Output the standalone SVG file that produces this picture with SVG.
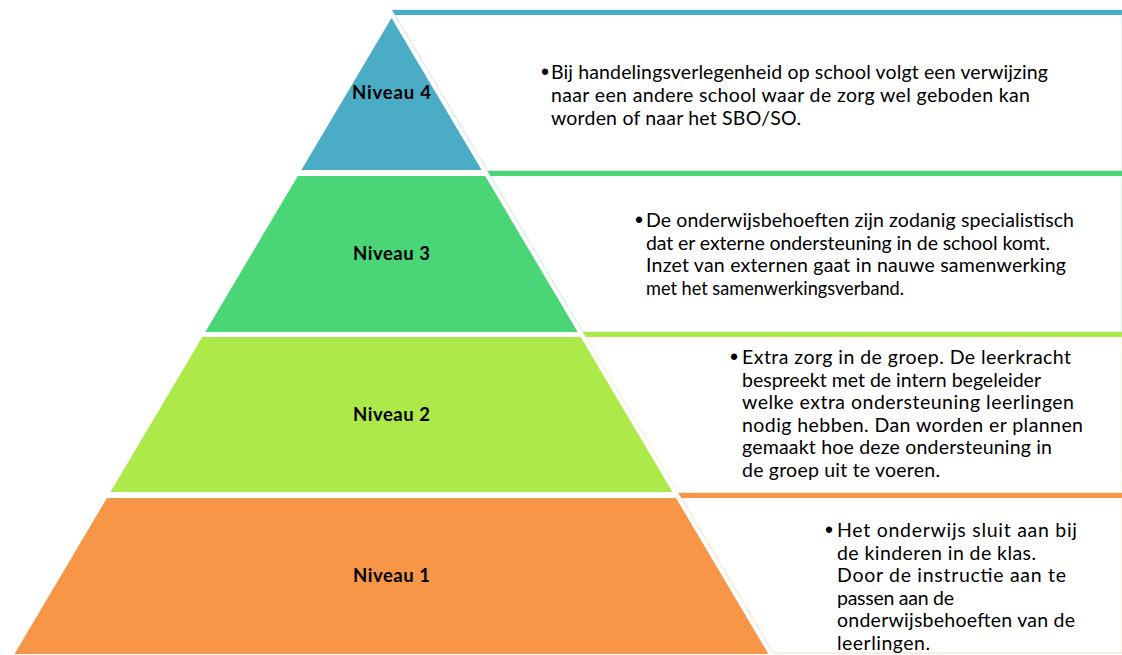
<svg xmlns="http://www.w3.org/2000/svg" width="1122" height="655" viewBox="0 0 1122 655">
<style>
.lbl{font-family:Lato,"Liberation Sans",sans-serif;font-weight:bold;font-size:18.5px;fill:#000;text-anchor:middle}
.txt{font-family:Lato,"Liberation Sans",sans-serif;font-size:19.5px;fill:#000}
.bul{font-family:"Liberation Sans",sans-serif;font-size:23px;fill:#000;text-anchor:middle}
.panel{fill:#fff;stroke-width:1}
</style>
<rect width="1122" height="655" fill="#fff"/>
<g id="level4">
<polygon points="391.5,18 481.6,170 301.4,170" fill="#4BACC6"/>
<text class="lbl" x="391.5" y="99" textLength="79">Niveau 4</text>
</g>
<g id="level3">
<polygon points="297.8,176 485.2,176 577.7,332 205.3,332" fill="#4AD677"/>
<text class="lbl" x="391.5" y="260" textLength="77">Niveau 3</text>
</g>
<g id="level2">
<polygon points="202.3,337 580.7,337 672.5,492 110.5,492" fill="#AEE94A"/>
<text class="lbl" x="391.5" y="421" textLength="77">Niveau 2</text>
</g>
<g id="level1">
<polygon points="106.9,498 676,498 768.5,654 14.5,654" fill="#F79646"/>
<text class="lbl" x="391.5" y="582" textLength="77">Niveau 1</text>
</g>
<g id="panel4">
<polygon class="panel" points="392,10 1122,10 1122,171 487.5,171" stroke="#C9E8F0"/>
<polygon points="392,10 1122,10 1122,15 395,15" fill="#4BACC6"/>
<text class="bul" x="545" y="80">•</text>
<text class="txt" x="551" y="79" textLength="497">Bij handelingsverlegenheid op school volgt een verwijzing</text>
<text class="txt" x="551" y="102" textLength="479">naar een andere school waar de zorg wel geboden kan</text>
<text class="txt" x="551" y="125" textLength="250">worden of naar het SBO/SO.</text>
</g>
<g id="panel3">
<polygon class="panel" points="487.5,171 1122,171 1122,332 583,332" stroke="#C6F0D4"/>
<polygon points="487.5,171 1122,171 1122,176 490.5,176" fill="#4AD677"/>
<text class="bul" x="639" y="228">•</text>
<text class="txt" x="646" y="227" textLength="428">De onderwijsbehoeften zijn zodanig specialistisch</text>
<text class="txt" x="646" y="249.5" textLength="404">dat er externe ondersteuning in de school komt.</text>
<text class="txt" x="646" y="272" textLength="420">Inzet van externen gaat in nauwe samenwerking</text>
<text class="txt" x="646" y="294.5" textLength="258" lengthAdjust="spacingAndGlyphs">met het samenwerkingsverband.</text>
</g>
<g id="panel2">
<polygon class="panel" points="583,332 1122,332 1122,493 678.4,493" stroke="#E3F6C3"/>
<polygon points="583,332 1122,332 1122,337 586,337" fill="#AEE94A"/>
<text class="bul" x="734" y="365">•</text>
<text class="txt" x="742" y="364" textLength="329">Extra zorg in de groep. De leerkracht</text>
<text class="txt" x="742" y="386.5" textLength="299">bespreekt met de intern begeleider</text>
<text class="txt" x="742" y="409" textLength="332">welke extra ondersteuning leerlingen</text>
<text class="txt" x="742" y="431.5" textLength="341">nodig hebben. Dan worden er plannen</text>
<text class="txt" x="742" y="454" textLength="310">gemaakt hoe deze ondersteuning in</text>
<text class="txt" x="742" y="476.5" textLength="198">de groep uit te voeren.</text>
</g>
<g id="panel1">
<polygon class="panel" points="678.4,493 1122,493 1122,653 773.3,653" stroke="#FCDCC2"/>
<polygon points="678.4,493 1122,493 1122,498 681.4,498" fill="#F79646"/>
<text class="bul" x="829" y="538">•</text>
<text class="txt" x="837" y="537" textLength="240">Het onderwijs sluit aan bij</text>
<text class="txt" x="837" y="559.5" textLength="199">de kinderen in de klas.</text>
<text class="txt" x="837" y="582" textLength="229">Door de instructie aan te</text>
<text class="txt" x="837" y="604.5" textLength="117">passen aan de</text>
<text class="txt" x="837" y="627" textLength="238">onderwijsbehoeften van de</text>
<text class="txt" x="837" y="649.5" textLength="93">leerlingen.</text>
</g>
<g id="connectors"></g>
</svg>
